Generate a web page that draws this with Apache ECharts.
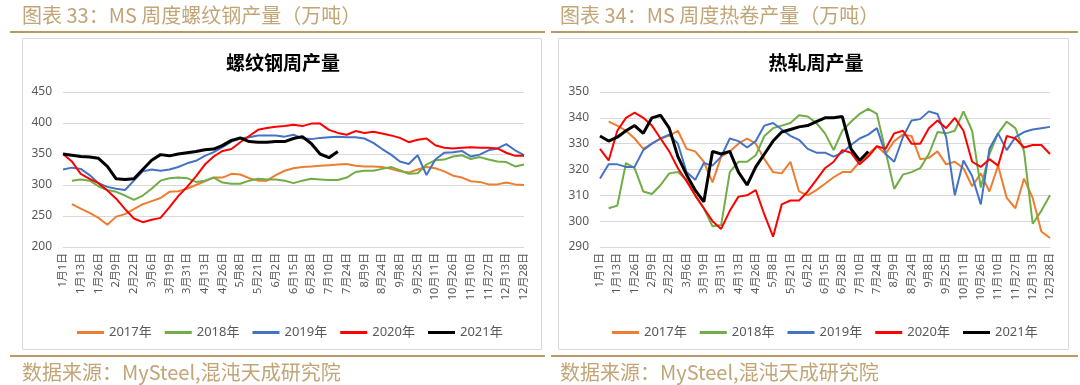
<!DOCTYPE html>
<html>
<head>
<meta charset="utf-8">
<script src="https://cdn.jsdelivr.net/npm/echarts@6/dist/echarts.min.js"></script>
<style>
html,body{margin:0;padding:0;background:#fff;}
#c{width:1080px;height:385px;}
</style>
</head>
<body>
<div id="c"></div>
<script>
const categories = ['1月1日','1月7日','1月13日','1月20日','1月26日','2月2日','2月9日','2月15日','2月22日','3月1日','3月6日','3月13日','3月19日','3月25日','3月31日','4月6日','4月13日','4月20日','4月26日','5月1日','5月8日','5月15日','5月21日','5月27日','6月2日','6月9日','6月15日','6月22日','6月28日','7月4日','7月10日','7月17日','7月24日','8月1日','8月9日','8月16日','8月24日','8月31日','9月8日','9月16日','9月25日','10月3日','10月11日','10月19日','10月26日','11月3日','11月10日','11月18日','11月27日','12月5日','12月13日','12月20日','12月28日'];
const yearNames = ['2017年','2018年','2019年','2020年','2021年'];

// 螺纹钢周产量 (万吨)
const rebar2017 = [null,269,262,255,247,236,249,253,261,269,274,279,289,290,294,300,306,312,312,318,317,311,307,307,316,323,327,329,330,331,332,333,334,331,330,330,329,326,322,320,325,329,327,322,315,312,306,305,301,301,304,301,300];
const rebar2018 = [null,307,309,307,298,292,289,283,276,283,294,307,311,312,311,305,307,312,304,302,302,307,310,309,309,307,303,307,310,309,308,308,312,321,323,323,326,329,324,318,319,333,340,341,346,348,342,345,341,338,337,330,333];
const rebar2019 = [325,328,326,316,303,297,294,292,307,322,325,323,325,329,335,339,347,353,361,370,375,377,380,380,380,378,381,375,374,376,377,378,377,377,375,368,358,349,338,334,348,316,341,352,353,355,346,349,356,359,366,356,348];
const rebar2020 = [350,338,318,310,303,291,278,261,246,240,244,247,264,282,297,314,333,346,355,358,369,379,389,392,394,395,397,395,399,399,389,384,381,387,384,386,383,380,376,369,373,375,364,360,359,360,361,360,360,359,352,347,347];
const rebar2021 = [350,348,346,345,343,330,310,309,310,325,340,349,347,350,352,354,357,358,364,372,376,370,369,369,370,370,375,378,367,350,344,354];

// 热轧周产量 (万吨)
const hrc2017 = [null,338.5,337,335,332,328,330,332,333,335,328,327,323,315,325,327,330,332,330,324,319,318.5,323,311.5,310,312,314.5,317,319,319,323,326,329,326,331,333.5,333,324,324.5,327,322,323,320.5,313.5,318.5,311.5,321.5,309,305,316.5,309,296,293.5];
const hrc2018 = [null,305,306,322.5,320.5,311.5,310.5,314,318.5,319,316,310,305,298,298.5,319,323,323,325.5,333,336,337,338,341,340.5,338,334,327.5,335,338.5,341.5,343.5,341.5,327,312.5,318,319,320.5,326,334.5,334,335,342.5,335,313,326,334,338.5,336,327,299,304,310];
const hrc2019 = [316.5,322,322,321,321,327.5,330,332,333.5,330,319,316,322.5,321.5,325,332,331,328.5,331,337,338,335.5,333,331.5,328,326.5,326.5,325,326.5,329.5,332,333.5,336,326,323,332.5,339,339.5,342.5,341.5,332.5,310,323.5,317.5,306.5,328,334,327.5,332.5,334.5,335.5,336,336.5];
const hrc2020 = [328,323.5,335,340,342,340,337,332,327,320.5,315.5,310,305,300,297,304,309.5,310,312,302.5,294,306.5,308,308,311.5,316,320.5,323,327.5,326.5,322,325,329,328,334,335,330,330,336,339,336,340,335,323,321,324,321.5,333,332,328.5,329.5,329.5,326];
const hrc2021 = [333,331,332.5,335,337,334,340,341,336,325,318,312,307.5,327,326,327,319,314,321,326,331,334.5,335.5,336.5,337,338.5,340,340,340.5,328,323.5,327];

const leftTicks = {min:200, max:450, interval:50};
const rightTicks = {min:290, max:350, interval:10};

const colors = ['#ED7D31','#70AD47','#4472C4','#FF0000','#000000'];
const widths = [2,2,2,2,3];
const FONT = '"Noto Sans", "Noto Sans CJK SC", sans-serif';
const CJK = '"Noto Sans CJK SC", sans-serif';
const GOLD_TEXT = '#C2A576';
const GOLD_LINE = '#B89A62';

const rebarSets = [rebar2017, rebar2018, rebar2019, rebar2020, rebar2021];
const hrcSets = [hrc2017, hrc2018, hrc2019, hrc2020, hrc2021];

function mkSeries(sets, idx) {
  return sets.map((d, k) => ({
    name: yearNames[k], type: 'line', xAxisIndex: idx, yAxisIndex: idx,
    data: d, symbol: 'none', smooth: false, connectNulls: false,
    lineStyle: {color: colors[k], width: widths[k]},
    itemStyle: {color: colors[k]}, z: 2 + k
  }));
}

function xAx(idx) {
  return {
    type: 'category', gridIndex: idx, data: categories, boundaryGap: false,
    axisLine: {show: true, lineStyle: {color: '#D9D9D9', width: 1}},
    axisTick: {show: false},
    axisLabel: {rotate: 90, interval: 1, fontSize: 11, color: '#595959', margin: 6, fontFamily: FONT}
  };
}
function yAx(idx, t) {
  return {
    type: 'value', gridIndex: idx, min: t.min, max: t.max, interval: t.interval,
    axisLine: {show: false}, axisTick: {show: false},
    splitLine: {lineStyle: {color: '#D9D9D9', width: 1}},
    axisLabel: {fontSize: 12, color: '#595959', margin: 11, fontFamily: FONT}
  };
}
function legend(left) {
  return {
    left: left, top: 321, icon: 'rect', itemWidth: 27, itemHeight: 3, itemGap: 13,
    data: yearNames, textStyle: {fontSize: 13, color: '#595959', fontFamily: FONT},
    selectedMode: false
  };
}

const chart = echarts.init(document.getElementById('c'), null, {renderer: 'canvas'});
chart.setOption({
  animation: false,
  backgroundColor: '#ffffff',
  grid: [
    {left: 63, right: 1080 - 524, top: 92, bottom: 385 - 247},
    {left: 600, right: 1080 - 1050, top: 92, bottom: 385 - 247}
  ],
  xAxis: [xAx(0), xAx(1)],
  yAxis: [yAx(0, leftTicks), yAx(1, rightTicks)],
  legend: [legend(72), legend(607)],
  series: mkSeries(rebarSets, 0).concat(mkSeries(hrcSets, 1)),
  graphic: [
    {type: 'rect', shape: {x: 22.5, y: 38.5, width: 519, height: 311}, style: {fill: 'none', stroke: '#D9D9D9', lineWidth: 1}, z: -1},
    {type: 'rect', shape: {x: 558.5, y: 38.5, width: 510, height: 311}, style: {fill: 'none', stroke: '#D9D9D9', lineWidth: 1}, z: -1},
    {type: 'line', shape: {x1: 10, y1: 32, x2: 545, y2: 32}, style: {stroke: GOLD_LINE, lineWidth: 2}},
    {type: 'line', shape: {x1: 551, y1: 32, x2: 1078, y2: 32}, style: {stroke: GOLD_LINE, lineWidth: 2}},
    {type: 'line', shape: {x1: 10, y1: 356, x2: 545, y2: 356}, style: {stroke: GOLD_LINE, lineWidth: 2}},
    {type: 'line', shape: {x1: 551, y1: 356, x2: 1078, y2: 356}, style: {stroke: GOLD_LINE, lineWidth: 2}},
    {type: 'text', x: 22, y: 15, style: {text: '图表 33：MS 周度螺纹钢产量（万吨）', fill: GOLD_TEXT, font: '20px ' + CJK, textVerticalAlign: 'middle', verticalAlign: 'middle'}},
    {type: 'text', x: 560, y: 15, style: {text: '图表 34：MS 周度热卷产量（万吨）', fill: GOLD_TEXT, font: '20px ' + CJK, textVerticalAlign: 'middle', verticalAlign: 'middle'}},
    {type: 'text', x: 22, y: 372, style: {text: '数据来源：MySteel,混沌天成研究院', fill: GOLD_TEXT, font: '20px ' + CJK, textVerticalAlign: 'middle', verticalAlign: 'middle'}},
    {type: 'text', x: 560, y: 372, style: {text: '数据来源：MySteel,混沌天成研究院', fill: GOLD_TEXT, font: '20px ' + CJK, textVerticalAlign: 'middle', verticalAlign: 'middle'}},
    {type: 'text', x: 283, y: 63, style: {text: '螺纹钢周产量', fill: '#000000', font: 'bold 19px ' + CJK, textAlign: 'center', align: 'center', textVerticalAlign: 'middle', verticalAlign: 'middle'}},
    {type: 'text', x: 816, y: 63, style: {text: '热轧周产量', fill: '#000000', font: 'bold 19px ' + CJK, textAlign: 'center', align: 'center', textVerticalAlign: 'middle', verticalAlign: 'middle'}}
  ]
});
</script>
</body>
</html>
